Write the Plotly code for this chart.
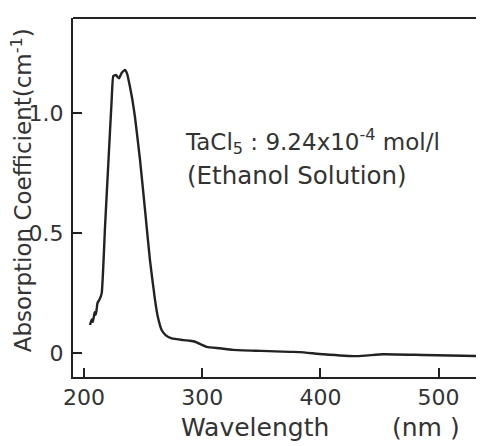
import plotly.graph_objects as go

wavelength = [205.1, 206.5, 207.5, 209.0, 210.0, 211.5, 213.0, 215.0, 217.8, 220.6,
              223.4, 224.8, 227.0, 229.6, 232.0, 234.7, 236.5, 238.9, 241.0, 243.1,
              247.4, 251.6, 255.8, 260.1, 262.5, 265.7, 269.0, 274.2, 284.0, 289.7,
              294.0, 303.8, 315.0, 326.1, 350.0, 374.0, 382.7, 402.5, 430.7, 453.0,
              486.8, 537.6]
absorption = [0.117, 0.140, 0.130, 0.170, 0.160, 0.210, 0.222, 0.250, 0.527, 0.793,
              1.055, 1.156, 1.160, 1.146, 1.170, 1.181, 1.165, 1.111, 1.055, 0.986,
              0.806, 0.598, 0.388, 0.221, 0.150, 0.096, 0.075, 0.061, 0.054, 0.051,
              0.047, 0.026, 0.020, 0.013, 0.009, 0.005, 0.004, -0.005, -0.013, -0.005,
              -0.008, -0.013]

x_ticks = [200, 300, 400, 500]
y_ticks = [0, 0.5, 1.0]
y_tick_text = ["0", "0.5", "1.0"]

FONT = "DejaVu Sans"
TXT = "#333333"

fig = go.Figure()
fig.add_trace(go.Scatter(x=wavelength, y=absorption, mode="lines",
                         line=dict(color="#222222", width=2.4, shape="spline", smoothing=0.4),
                         hoverinfo="skip", showlegend=False))

fig.update_layout(
    width=476, height=438,
    margin=dict(l=65, r=0, t=10, b=69),
    paper_bgcolor="white", plot_bgcolor="white",
    font=dict(family=FONT, color=TXT, size=20),
    xaxis=dict(range=[190.7, 538.4], tickvals=x_ticks, ticks="inside", ticklen=9,
               tickwidth=2, tickcolor="#222", showline=True, linecolor="#222", linewidth=2,
               showgrid=False, zeroline=False, tickfont=dict(size=22, family=FONT, color=TXT)),
    yaxis=dict(range=[-0.100, 1.398], tickvals=y_ticks, ticktext=y_tick_text,
               ticks="inside", ticklen=9, tickwidth=2, tickcolor="#222",
               showline=True, linecolor="#222", linewidth=2, showgrid=False,
               zeroline=False, ticklabelstandoff=3,
               tickfont=dict(size=22, family=FONT, color=TXT)),
)

fig.add_shape(type="line", xref="paper", yref="paper", x0=0, x1=1, y0=1, y1=1,
              line=dict(color="#222", width=2))

fig.add_annotation(text="Absorption Coefficient(cm<sup>-1</sup>)", xref="paper", yref="paper",
                   x=-0.124, y=0.52, xanchor="center", yanchor="middle", textangle=-90,
                   showarrow=False, font=dict(size=23, family=FONT, color=TXT))
fig.add_annotation(text="Wavelength", xref="paper", yref="paper", x=0.443, y=-0.142,
                   xanchor="center", yanchor="middle",
                   showarrow=False, font=dict(size=25, family=FONT, color=TXT))
fig.add_annotation(text="(nm )", xref="paper", yref="paper", x=0.859, y=-0.142,
                   xanchor="center", yanchor="middle",
                   showarrow=False, font=dict(size=25, family=FONT, color=TXT))
fig.add_annotation(text="TaCl<sub>5</sub> : 9.24x10<sup>-4</sup> mol/l", xref="paper", yref="paper",
                   x=0.268, y=0.655, xanchor="left", yanchor="middle", showarrow=False,
                   font=dict(size=23, family=FONT, color=TXT))
fig.add_annotation(text="(Ethanol Solution)", xref="paper", yref="paper",
                   x=0.2725, y=0.56, xanchor="left", yanchor="middle", showarrow=False,
                   font=dict(size=24.5, family=FONT, color=TXT))

fig.write_html("out.html")
